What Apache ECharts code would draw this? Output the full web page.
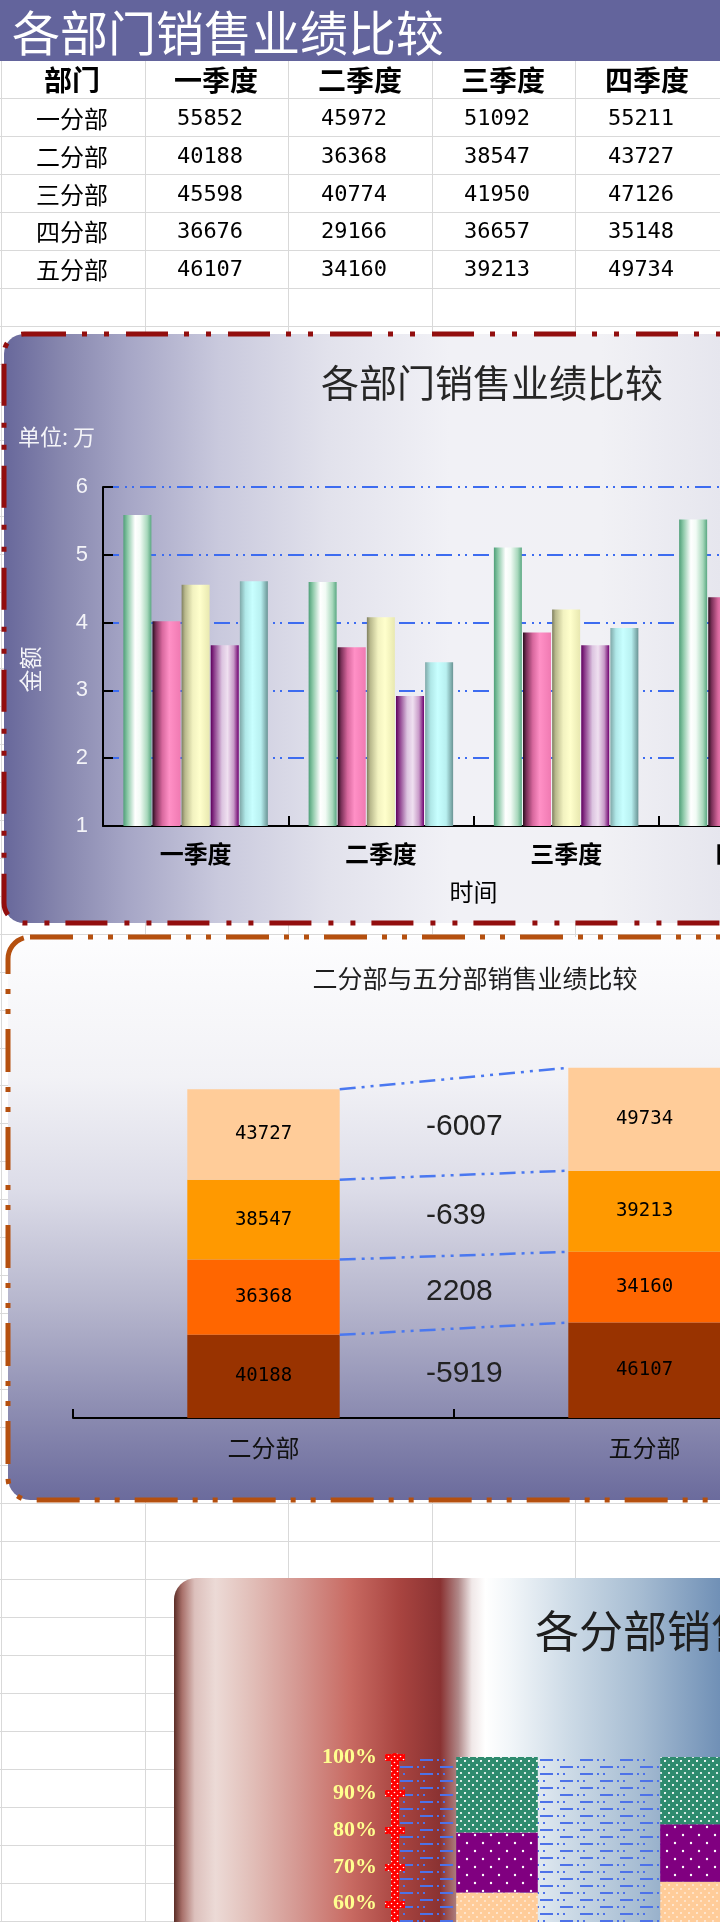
<!DOCTYPE html>
<html><head><meta charset="utf-8">
<script src="https://cdn.jsdelivr.net/npm/echarts@6/dist/echarts.min.js"></script>
<style>html,body{margin:0;padding:0;background:#fff;overflow:hidden}#c{width:720px;height:1922px}</style>
</head><body><div id="c"></div>
<script>
// ---------- data ----------
const pageTitle = '各部门销售业绩比较';
const tableHeader = ['部门', '一季度', '二季度', '三季度', '四季度'];
const quarters = ['一季度', '二季度', '三季度', '四季度'];
const depts = ['一分部', '二分部', '三分部', '四分部', '五分部'];
const dept1 = [55852, 45972, 51092, 55211];
const dept2 = [40188, 36368, 38547, 43727];
const dept3 = [45598, 40774, 41950, 47126];
const dept4 = [36676, 29166, 36657, 35148];
const dept5 = [46107, 34160, 39213, 49734];
const deptValues = [dept1, dept2, dept3, dept4, dept5];

const chart1Title = '各部门销售业绩比较';
const chart1Unit = '单位: 万';
const chart1YName = '金额';
const chart1XName = '时间';
const chart1YMin = 1, chart1YMax = 6, chart1YStep = 1;

const chart2Title = '二分部与五分部销售业绩比较';
const chart2Cats = ['二分部', '五分部'];
const chart2Diffs = [-5919, 2208, -639, -6007]; // per quarter, as printed in the chart

const chart3Title = '各分部销售业绩比较';
const chart3YMin = 0, chart3YMax = 100, chart3YStep = 10;

// ---------- helpers ----------
const FONT_CJK = '"Noto Sans CJK SC"';
function lg(stops, vertical) {
  return new echarts.graphic.LinearGradient(0, 0, vertical ? 0 : 1, vertical ? 1 : 0,
    stops.map(s => ({offset: s[0], color: s[1]})));
}
function dotPattern(bg, dot, w, h, pts, r) {
  const c = document.createElement('canvas'); c.width = w; c.height = h;
  const x = c.getContext('2d'); x.fillStyle = bg; x.fillRect(0, 0, w, h);
  x.fillStyle = dot;
  pts.forEach(p => { x.beginPath(); x.arc(p[0], p[1], r, 0, Math.PI * 2); x.fill(); });
  return {image: c, repeat: 'repeat'};
}
function dashPattern() {
  const c = document.createElement('canvas'); c.width = 40; c.height = 14;
  const x = c.getContext('2d'); x.fillStyle = '#4d72e8';
  x.fillRect(0, 2, 13, 2); x.fillRect(17, 2, 2, 2); x.fillRect(23, 2, 2, 2);
  x.fillRect(20, 9, 13, 2); x.fillRect(37, 9, 2, 2); x.fillRect(3, 9, 2, 2);
  return {image: c, repeat: 'repeat'};
}
const sum = a => a.reduce((s, v) => s + v, 0);

// ---------- background graphics (spreadsheet, boxes, texts) ----------
const g = [];
const ROWH = 37.98;
for (let y = 98; y < 1922; y += ROWH) {
  const yy = Math.round(y) + 0.5;
  g.push({type: 'line', z: 0, shape: {x1: 0, y1: yy, x2: 720, y2: yy}, style: {stroke: '#d9d9d9', lineWidth: 1}});
}
[1, 145, 288, 432, 575].forEach(x => g.push({type: 'line', z: 0,
  shape: {x1: x + 0.5, y1: 61, x2: x + 0.5, y2: 1922}, style: {stroke: '#d9d9d9', lineWidth: 1}}));

// title band
g.push({type: 'rect', z: 1, shape: {x: 0, y: 0, width: 720, height: 61}, style: {fill: '#63649c'}});
g.push({type: 'text', z: 3, x: 12, y: 33, style: {text: pageTitle, font: '48px ' + FONT_CJK, fill: '#ffffff',
  textAlign: 'left', align: 'left', textVerticalAlign: 'middle', verticalAlign: 'middle',
  shadowColor: 'rgba(0,0,0,0.35)', shadowBlur: 2}});

// table
const colCenters = [72, 216, 360, 503, 647];
const rowCenters = [119, 157, 195, 232, 270];
tableHeader.forEach((t, i) => g.push({type: 'text', z: 3, x: colCenters[i], y: 80,
  style: {text: t, font: 'bold 28px ' + FONT_CJK, fill: '#000', textAlign: 'center', align: 'center',
    textVerticalAlign: 'middle', verticalAlign: 'middle'}}));
depts.forEach((d, r) => {
  g.push({type: 'text', z: 3, x: colCenters[0], y: rowCenters[r],
    style: {text: d, font: '24px ' + FONT_CJK, fill: '#000', textAlign: 'center', align: 'center',
      textVerticalAlign: 'middle', verticalAlign: 'middle'}});
  deptValues[r].forEach((v, q) => g.push({type: 'text', z: 3, x: colCenters[q + 1] - 6, y: rowCenters[r],
    style: {text: String(v), font: '22px "DejaVu Sans Mono"', fill: '#000', textAlign: 'center', align: 'center',
      textVerticalAlign: 'middle', verticalAlign: 'middle'}}));
});

// chart 1 box
g.push({type: 'rect', z: 2, shape: {x: 4, y: 334, width: 1000, height: 589, r: 20},
  style: {fill: lg([[0, '#66669a'], [0.056, '#8585ad'], [0.126, '#a6a6c6'], [0.216, '#c9c9dd'],
    [0.326, '#e2e2ec'], [0.446, '#f1f1f6'], [0.596, '#f1f1f5'], [0.716, '#e6e6ee'], [1, '#dadae6']]),
    stroke: '#920e0e', lineWidth: 5, lineDash: [42, 16, 5, 17, 5, 17]}});
g.push({type: 'text', z: 3, x: 492, y: 383, style: {text: chart1Title, font: '38px ' + FONT_CJK, fill: '#262626',
  textAlign: 'center', align: 'center', textVerticalAlign: 'middle', verticalAlign: 'middle'}});
g.push({type: 'text', z: 3, x: 18, y: 437, style: {text: chart1Unit, font: '22px ' + FONT_CJK, fill: '#f4f4f8',
  textAlign: 'left', align: 'left', textVerticalAlign: 'middle', verticalAlign: 'middle'}});

// chart 2 box
g.push({type: 'rect', z: 2, shape: {x: 8, y: 937, width: 1000, height: 563, r: 22},
  style: {fill: lg([[0, '#fdfdfe'], [0.25, '#f2f2f6'], [0.45, '#dcdce8'], [0.65, '#b6b6cd'],
    [0.85, '#8a8ab0'], [1, '#6a6a9c']], true),
    stroke: '#b5500f', lineWidth: 5, lineDash: [43, 15, 5, 15, 5, 15]}});
g.push({type: 'text', z: 3, x: 475, y: 978, style: {text: chart2Title, font: '25px ' + FONT_CJK, fill: '#1e1e1e',
  textAlign: 'center', align: 'center', textVerticalAlign: 'middle', verticalAlign: 'middle'}});

// chart 3 box
g.push({type: 'rect', z: 2, shape: {x: 174, y: 1578, width: 900, height: 600, r: [22, 0, 0, 0]},
  style: {fill: lg([[0, '#5a2c26'], [0.009, '#a8706a'], [0.023, '#dcc0bc'], [0.046, '#ecdad6'],
    [0.084, '#e2c0ba'], [0.14, '#d49690'], [0.196, '#c86a62'], [0.251, '#a84440'], [0.296, '#8a3232'],
    [0.316, '#b08888'], [0.331, '#f0e8e8'], [0.346, '#ffffff'], [0.373, '#f2f6f9'], [0.44, '#ccdae6'],
    [0.518, '#a6bcd2'], [0.607, '#7090b6'], [1, '#5a7aa6']])}});
g.push({type: 'text', z: 3, x: 535, y: 1631, style: {text: chart3Title, font: '44px ' + FONT_CJK, fill: '#1e1e1e',
  textAlign: 'left', align: 'left', textVerticalAlign: 'middle', verticalAlign: 'middle',
  shadowColor: 'rgba(0,0,0,0.45)', shadowBlur: 3, shadowOffsetX: 1, shadowOffsetY: 1}});

// ---------- chart 1 series ----------
const c1Grad = [
  [[0, '#4f9f78'], [0.15, '#8cc9a8'], [0.42, '#ffffff'], [0.6, '#f2fbf5'], [0.85, '#a8d8bc'], [1, '#5aa882']],
  [[0, '#2a0f1e'], [0.12, '#7a3058'], [0.35, '#d8689e'], [0.6, '#ff90c6'], [1, '#f07ab2']],
  [[0, '#7f7f60'], [0.12, '#b8b88c'], [0.4, '#f2f2c0'], [0.65, '#ffffcc'], [1, '#e8e8b0']],
  [[0, '#5e005e'], [0.12, '#8a3a8a'], [0.4, '#dcc4e0'], [0.6, '#efe0f0'], [0.82, '#c89ac8'], [1, '#6e006e']],
  [[0, '#7fa8a8'], [0.2, '#b0e8e8'], [0.45, '#c8ffff'], [0.75, '#b8f0f0'], [1, '#6a9494']]
];
const series = [];
deptValues.forEach((vals, i) => series.push({
  type: 'bar', name: depts[i], xAxisIndex: 0, yAxisIndex: 0, zlevel: 1,
  data: vals.map(v => v / 10000), barWidth: 28, barGap: '4%',
  itemStyle: {color: lg(c1Grad[i])}
}));

// ---------- chart 2 series ----------
const c2Colors = ['#993300', '#ff6600', '#ff9900', '#ffcc99'];
quarters.forEach((q, i) => series.push({
  type: 'bar', name: q, xAxisIndex: 1, yAxisIndex: 1, zlevel: 1, stack: 'c2', barWidth: '40%',
  data: [dept2[i], dept5[i]],
  itemStyle: {color: c2Colors[i]},
  label: {show: true, position: 'inside', color: '#000', fontFamily: 'DejaVu Sans Mono', fontSize: 19}
}));
series.push({
  type: 'custom', xAxisIndex: 1, yAxisIndex: 1, zlevel: 1, z: 5,
  data: chart2Diffs.map(() => [0, 0]),
  renderItem: function (params, api) {
    const i = params.dataIndex;
    const cumA = sum(dept2.slice(0, i + 1)), prevA = sum(dept2.slice(0, i));
    const cumB = sum(dept5.slice(0, i + 1)), prevB = sum(dept5.slice(0, i));
    const a = api.coord([0, cumA]), b = api.coord([1, cumB]);
    const band = api.coord([1, 0])[0] - api.coord([0, 0])[0];
    const half = band * 0.2;
    const ma = api.coord([0, (cumA + prevA) / 2]), mb = api.coord([1, (cumB + prevB) / 2]);
    return {type: 'group', children: [
      {type: 'line', shape: {x1: a[0] + half, y1: a[1], x2: b[0] - half, y2: b[1]},
        style: {stroke: '#4a78f0', lineWidth: 2.5, lineDash: [16, 6, 3, 6, 3, 6]}},
      {type: 'text', style: {text: String(chart2Diffs[i]), x: (a[0] + b[0]) / 2 - 28, y: (ma[1] + mb[1]) / 2,
        textAlign: 'left', align: 'left', textVerticalAlign: 'middle', verticalAlign: 'middle',
        font: '30px "Liberation Sans"', fill: '#222'}}
    ]};
  }
});

// ---------- chart 3 series (100% stacked) ----------
const qTotals = quarters.map((q, i) => sum(deptValues.map(d => d[i])));
const c3Fill = [
  dotPattern('#ff99cc', '#ffffff', 8, 8, [[1, 1], [5, 5]], 0.9),
  dotPattern('#99ccff', '#ffffff', 8, 8, [[1, 1], [5, 5]], 0.9),
  dotPattern('#ffcc99', '#ffe8d2', 8, 8, [[1, 1], [5, 5]], 1.1),
  dotPattern('#800080', '#ffffff', 16, 16, [[3, 3], [11, 11]], 1.2),
  dotPattern('#2e8b6e', '#ffffff', 8, 8, [[1, 1], [5, 5]], 1.1)
];
deptValues.forEach((vals, i) => series.push({
  type: 'bar', name: depts[i] + '占比', xAxisIndex: 2, yAxisIndex: 2, zlevel: 1, stack: 'pct', barWidth: '40%',
  data: vals.map((v, q) => v / qTotals[q] * 100),
  itemStyle: {color: c3Fill[i]}
}));
const redDots = dotPattern('#ff0000', '#ffffff', 6, 6, [[1.5, 1.5], [4.5, 4.5]], 0.8);

// ---------- option ----------
const axisBlack = {show: true, lineStyle: {color: '#000', width: 2}};
const option = {
  animation: false,
  backgroundColor: '#ffffff',
  graphic: {elements: g},
  grid: [
    {left: 103, top: 487, width: 741, height: 339, containLabel: false, outerBoundsMode: 'none', zlevel: 1},
    {left: 73, top: 1004, width: 762, height: 414, containLabel: false, outerBoundsMode: 'none', zlevel: 1},
    {left: 395, top: 1757, width: 816, height: 367, containLabel: false, outerBoundsMode: 'none', zlevel: 1,
      show: true, borderWidth: 0, backgroundColor: dashPattern()}
  ],
  xAxis: [
    {type: 'category', gridIndex: 0, data: quarters, zlevel: 1,
      axisLine: axisBlack, axisTick: {show: true, inside: true, length: 10, lineStyle: {color: '#000', width: 2}},
      axisLabel: {color: '#000', fontWeight: 'bold', fontSize: 24, fontFamily: FONT_CJK, margin: 16, interval: 0},
      name: chart1XName, nameLocation: 'middle', nameGap: 54,
      nameTextStyle: {color: '#000', fontSize: 24, fontFamily: FONT_CJK}},
    {type: 'category', gridIndex: 1, data: chart2Cats, zlevel: 1,
      axisLine: axisBlack, axisTick: {show: true, inside: true, length: 9, lineStyle: {color: '#000', width: 2}},
      axisLabel: {color: '#111', fontSize: 24, fontFamily: FONT_CJK, margin: 18, interval: 0}},
    {type: 'category', gridIndex: 2, data: quarters, zlevel: 1,
      axisLine: {show: false}, axisTick: {show: false}, axisLabel: {show: false}}
  ],
  yAxis: [
    {type: 'value', gridIndex: 0, min: chart1YMin, max: chart1YMax, interval: chart1YStep, zlevel: 1,
      axisLine: axisBlack, axisTick: {show: true, inside: true, length: 10, lineStyle: {color: '#000', width: 2}},
      axisLabel: {color: '#f4f4f8', fontSize: 22, fontFamily: 'Liberation Sans', margin: 15},
      splitLine: {show: true, lineStyle: {color: '#3d6cf0', width: 2, type: [16, 6, 2, 5, 2, 6]}},
      name: chart1YName, nameLocation: 'middle', nameGap: 61,
      nameTextStyle: {color: '#f4f4f8', fontSize: 23, fontFamily: FONT_CJK, padding: [0, 26, 0, 0]}},
    {type: 'value', gridIndex: 1, min: 0, max: 200000, zlevel: 1, show: false,
      splitLine: {show: false}},
    {type: 'value', gridIndex: 2, min: chart3YMin, max: chart3YMax, interval: chart3YStep, zlevel: 1,
      axisLine: {show: true, lineStyle: {color: redDots, width: 8}},
      axisTick: {show: true, inside: false, length: 10, lineStyle: {color: redDots, width: 7}},
      axisLabel: {color: '#ffff8f', fontSize: 22, fontWeight: 'bold', fontFamily: 'Liberation Serif', margin: 18,
        formatter: '{value}%'},
      splitLine: {show: false}},
    {type: 'value', gridIndex: 2, min: chart3YMin, max: chart3YMax, interval: chart3YStep, zlevel: 1,
      position: 'left', axisLine: {show: false},
      axisTick: {show: true, inside: true, length: 10, lineStyle: {color: redDots, width: 7}},
      axisLabel: {show: false}, splitLine: {show: false}}
  ],
  series: series
};
const chart = echarts.init(document.getElementById('c'), null, {renderer: 'canvas', width: 720, height: 1922});
chart.setOption(option);
</script>
</body></html>
